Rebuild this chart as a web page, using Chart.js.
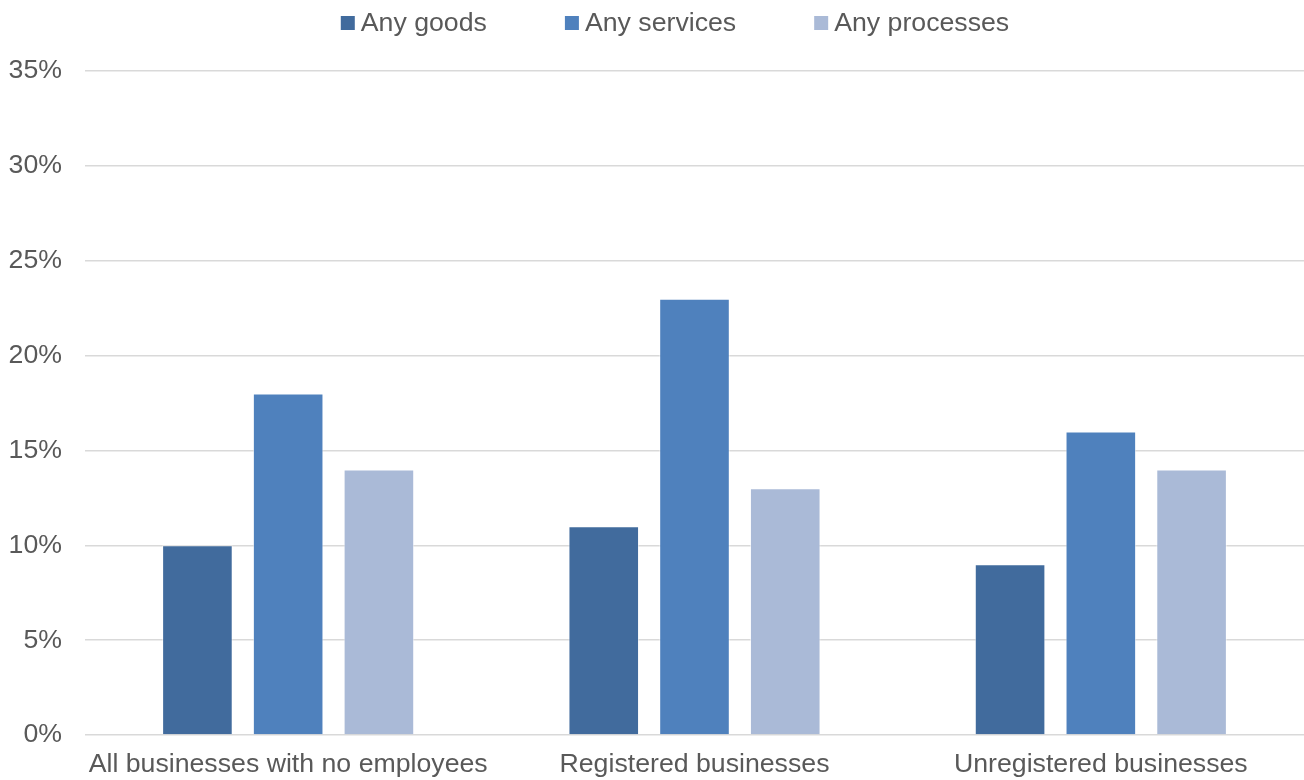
<!DOCTYPE html>
<html>
<head>
<meta charset="utf-8">
<script src="https://cdn.jsdelivr.net/npm/chart.js@4.4.1/dist/chart.umd.min.js"></script>
<style>
    html, body { margin: 0; padding: 0; background: #fff; }
    #wrap { width: 1304px; height: 780px; position: relative; }
</style>
</head>
<body>
<div id="wrap"><canvas id="chart"></canvas></div>
<script>
const categories = ['All businesses with no employees', 'Registered businesses', 'Unregistered businesses'];
const seriesNames = ['Any goods', 'Any services', 'Any processes'];
const goods = [10, 11, 9];
const services = [18, 23, 16];
const processes = [14, 13, 14];
const yTicks = [0, 5, 10, 15, 20, 25, 30, 35];

const palette = ['#416B9D', '#4F81BD', '#AABAD7'];
const textColor = '#595959';
const gridColor = '#D9D9D9';
const fontFamily = 'Arial, "Liberation Sans", Helvetica, sans-serif';
const fontSize = 26.7;

// legend row across the top, drawn by hand so the spacing stays tight
const topLegend = {
    id: 'topLegend',
    afterDraw(chart) {
        const ctx = chart.ctx;
        const box = 14;
        const gapText = 6;
        const gapItem = 78;
        const y = 23;
        ctx.save();
        ctx.font = `${fontSize}px ${fontFamily}`;
        ctx.textBaseline = 'middle';
        const items = chart.data.datasets.map((ds) => ({
            text: ds.label,
            color: ds.backgroundColor,
            w: box + gapText + ctx.measureText(ds.label).width,
        }));
        const total = items.reduce((s, it) => s + it.w, 0) + gapItem * (items.length - 1);
        let x = 675 - total / 2;
        items.forEach((it) => {
            ctx.fillStyle = it.color;
            ctx.fillRect(x, y - box / 2, box, box);
            ctx.fillStyle = textColor;
            ctx.fillText(it.text, x + box + gapText, y + 1);
            x += it.w + gapItem;
        });
        ctx.restore();
    },
};

const values = [goods, services, processes];

new Chart(document.getElementById('chart'), {
    type: 'bar',
    data: {
        labels: categories,
        datasets: seriesNames.map((name, i) => ({
            label: name,
            data: values[i],
            backgroundColor: palette[i],
            borderColor: 'rgba(255,255,255,0.55)',
            borderWidth: 1,
            categoryPercentage: 0.67,
            barPercentage: 0.778,
        })),
    },
    options: {
        responsive: true,
        maintainAspectRatio: false,
        animation: false,
        layout: { padding: { top: 71, right: 0, left: 0, bottom: 0 } },
        plugins: {
            legend: { display: false },
            tooltip: { enabled: false },
        },
        scales: {
            x: {
                grid: { display: false },
                border: { display: false },
                ticks: {
                    color: textColor,
                    font: { family: fontFamily, size: fontSize },
                    padding: 6,
                    maxRotation: 0,
                    autoSkip: false,
                },
                afterFit: (scale) => { scale.height = 45; },
            },
            y: {
                min: 0,
                max: 35,
                afterBuildTicks: (scale) => { scale.ticks = yTicks.map((v) => ({ value: v })); },
                grid: { color: gridColor, lineWidth: 1.5, drawTicks: false },
                border: { display: false },
                ticks: {
                    color: textColor,
                    font: { family: fontFamily, size: fontSize },
                    padding: 23,
                    callback: (v) => v + '%',
                },
                afterFit: (scale) => { scale.width = 85; },
            },
        },
    },
    plugins: [topLegend],
});
</script>
</body>
</html>
